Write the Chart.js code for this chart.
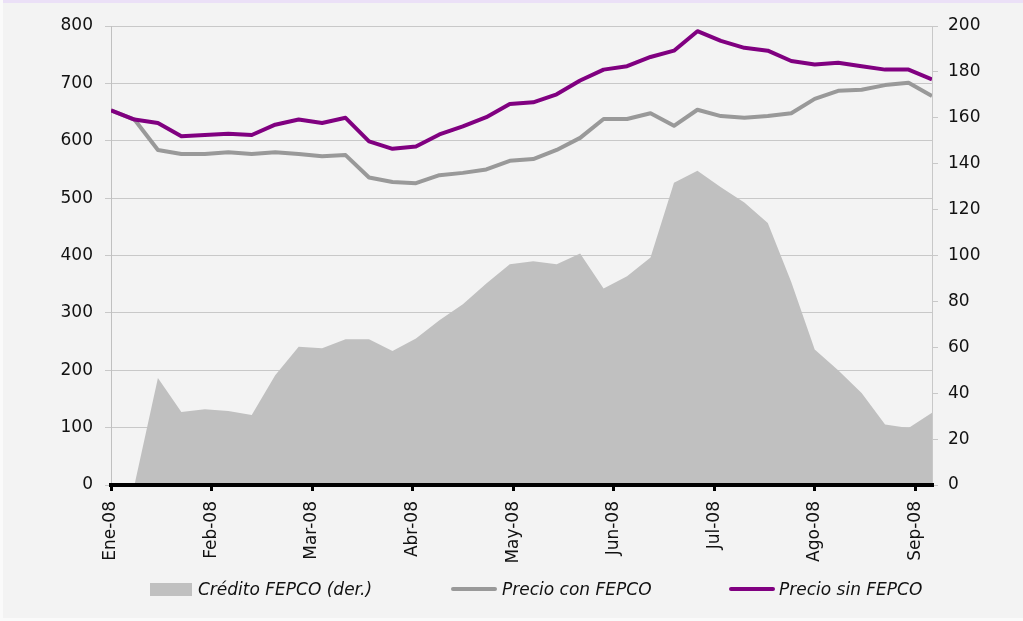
<!DOCTYPE html>
<html>
<head>
<meta charset="utf-8">
<script src="https://cdn.jsdelivr.net/npm/chart.js@4.4.0/dist/chart.umd.min.js"></script>
<style>
body { margin: 0; background: #fafafa; }
#fondo { position: absolute; left: 3px; top: 0; width: 1020px; height: 618px; background: #f3f3f3; border-top: 3px solid #ebe0f7; box-sizing: border-box; }
#grafico { position: absolute; left: 0; top: 0; }
.ley { position: absolute; top: 578px; height: 22px; font-family: 'DejaVu Sans', sans-serif; font-style: italic; font-size: 17px; color: #111; line-height: 22px; white-space: nowrap; }
.ley span { position: absolute; }
</style>
</head>
<body>
<div id="fondo"></div>
<canvas id="grafico" width="1023" height="621"></canvas>
<div class="ley" style="left:150px"><span style="left:0;top:5px;width:42px;height:13px;background:#c0c0c0"></span><span style="left:48px">Crédito FEPCO (der.)</span></div>
<div class="ley" style="left:451px"><span style="left:0;top:9px;width:46px;height:4px;background:#999999;border-radius:2px"></span><span style="left:51px">Precio con FEPCO</span></div>
<div class="ley" style="left:729px"><span style="left:0;top:9px;width:46px;height:4px;background:#800080;border-radius:2px"></span><span style="left:50px">Precio sin FEPCO</span></div>
<script>
'use strict';

// dias desde el 1 de enero (datos semanales)
let dias = [0, 7, 14, 21, 28, 35, 42, 49, 56, 63, 70, 77, 84, 91, 98, 105, 112, 119, 126, 133, 140, 147, 154, 161, 168, 175, 182, 189, 196, 203, 210, 217, 224, 231, 238, 245];

let precioSinFepco = [653, 637, 631, 608, 610, 612, 610, 628, 637, 631, 640, 599, 586, 590, 611, 625, 641, 664, 667, 681, 705, 724, 730, 746, 757, 791, 774, 762, 757, 739, 733, 736, 730, 724, 724, 707];
let precioConFepco = [653, 637, 584, 577, 577, 580, 577, 580, 577, 573, 575, 536, 528, 526, 540, 544, 550, 565, 568, 584, 605, 638, 638, 648, 626, 654, 643, 640, 643, 648, 673, 687, 689, 697, 701, 678];
let creditoFepco = [0, 0, 46.6, 31.8, 33, 32.2, 30.5, 47.8, 60.2, 59.6, 63.5, 63.5, 58.4, 63.8, 71.8, 78.8, 87.8, 96.2, 97.5, 96.2, 100.9, 85.6, 91, 99.1, 131.7, 136.9, 129.7, 123.1, 114.2, 88.5, 59, 50, 40.1, 26.4, 24.8, 31.5];

let mesesPos = [0, 30, 60, 90, 120, 150, 180, 210, 240];
let mesesNombres = ['Ene-08', 'Feb-08', 'Mar-08', 'Abr-08', 'May-08', 'Jun-08', 'Jul-08', 'Ago-08', 'Sep-08'];

function puntos(valores) {
    let arr = [];
    for (let i = 0; i < dias.length; i++) {
        arr.push({ x: dias[i], y: valores[i] });
    }
    return arr;
}

let fuente = { family: 'DejaVu Sans', size: 17 };

let ctx = document.getElementById('grafico').getContext('2d');
let grafico = new Chart(ctx, {
    type: 'line',
    data: {
        datasets: [{
            label: 'Precio sin FEPCO',
            data: puntos(precioSinFepco),
            borderColor: '#800080',
            borderWidth: 4,
            pointRadius: 0,
            borderJoinStyle: 'round',
            yAxisID: 'yIzq',
            order: 1
        }, {
            label: 'Precio con FEPCO',
            data: puntos(precioConFepco),
            borderColor: '#999999',
            borderWidth: 4,
            pointRadius: 0,
            borderJoinStyle: 'round',
            yAxisID: 'yIzq',
            order: 2
        }, {
            label: 'Crédito FEPCO (der.)',
            data: puntos(creditoFepco),
            borderWidth: 0,
            borderColor: 'rgba(0,0,0,0)',
            backgroundColor: '#c0c0c0',
            fill: 'origin',
            pointRadius: 0,
            yAxisID: 'yDer',
            order: 3
        }]
    },
    options: {
        responsive: false,
        animation: false,
        events: [],
        layout: { padding: { top: 26, left: 0, right: 0, bottom: 0 } },
        plugins: { legend: { display: false }, tooltip: { enabled: false } },
        scales: {
            x: {
                type: 'linear',
                position: 'bottom',
                min: 0,
                max: 245,
                afterBuildTicks: function (scale) {
                    scale.ticks = mesesPos.map(function (v) { return { value: v }; });
                },
                afterFit: function (scale) { scale.height = 136; },
                ticks: {
                    font: fuente,
                    color: '#111',
                    minRotation: 90,
                    maxRotation: 90,
                    padding: 10,
                    callback: function (v) { return mesesNombres[mesesPos.indexOf(v)]; }
                },
                grid: { drawOnChartArea: false, color: '#000', lineWidth: 3, tickLength: 6, z: 1 },
                border: { color: '#000', width: 4, z: 1 }
            },
            yIzq: {
                position: 'left',
                min: 0,
                max: 800,
                afterFit: function (scale) { scale.width = 111; },
                ticks: { stepSize: 100, font: fuente, color: '#111', padding: 12 },
                grid: { color: '#c8c8c8', lineWidth: 1, tickLength: 6 },
                border: { color: '#c0c0c0', width: 1 }
            },
            yDer: {
                position: 'right',
                min: 0,
                max: 200,
                afterFit: function (scale) { scale.width = 91; },
                ticks: { stepSize: 20, font: fuente, color: '#111', padding: 10 },
                grid: { drawOnChartArea: false, color: '#c8c8c8', lineWidth: 1, tickLength: 6 },
                border: { color: '#c8c8c8', width: 1 }
            }
        }
    }
});
</script>
</body>
</html>
